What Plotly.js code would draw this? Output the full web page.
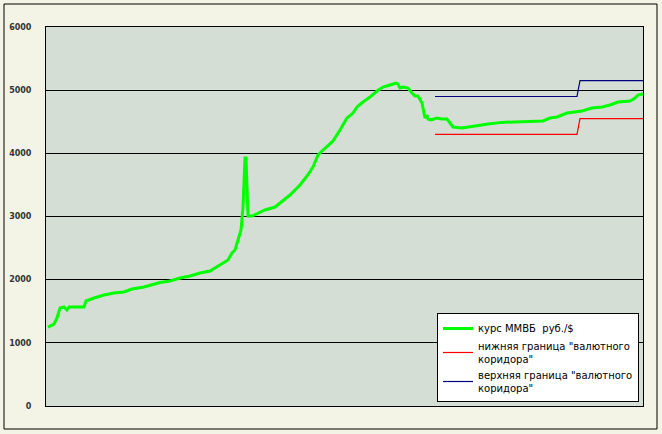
<!DOCTYPE html>
<html>
<head>
<meta charset="utf-8">
<script src="https://cdn.plot.ly/plotly-3.0.1.min.js"></script>
<style>html,body{margin:0;padding:0;background:#f3f3e6;}#chart{width:662px;height:434px;}</style>
</head>
<body>
<div id="chart"></div>
<script>
// Day index along the (unlabelled) horizontal axis
const rateDay = [2, 8, 11, 14, 18, 21, 23, 38, 40, 48, 58, 68, 78, 86, 98, 108, 114, 124, 134, 144, 154, 164, 171, 177, 182, 186, 189, 192, 195, 197, 198, 199, 200, 201, 202, 206, 212, 219, 229, 237, 244, 254, 261, 267, 272, 277, 287, 294, 301, 307, 311, 317, 324, 331, 337, 344, 350, 352, 354, 357, 362, 366, 369, 372, 376, 377, 379, 381, 382, 385, 391, 396, 401, 404, 407, 416, 422, 429, 442, 456, 469, 479, 497, 504, 511, 521, 536, 546, 556, 564, 572, 584, 589, 592, 597];
// MICEX rate, rub/$
const rateValue = [1250, 1298, 1393, 1551, 1567, 1520, 1567, 1567, 1662, 1710, 1757, 1789, 1805, 1852, 1885, 1925, 1955, 1979, 2026, 2058, 2105, 2137, 2200, 2264, 2311, 2422, 2470, 2628, 2786, 3150, 3530, 3926, 3926, 3450, 3008, 3008, 3055, 3103, 3150, 3245, 3340, 3499, 3641, 3783, 3973, 4052, 4195, 4369, 4559, 4638, 4733, 4812, 4891, 4986, 5050, 5082, 5113, 5097, 5034, 5050, 5034, 4955, 4907, 4907, 4797, 4717, 4559, 4607, 4543, 4528, 4559, 4543, 4543, 4480, 4417, 4401, 4417, 4433, 4465, 4490, 4496, 4500, 4512, 4559, 4575, 4638, 4670, 4717, 4733, 4765, 4812, 4828, 4876, 4923, 4939];
// Currency corridor
const corridorDay = [389, 531, 534, 597];
const lowerBound = [4300, 4300, 4550, 4550];
const upperBound = [4900, 4900, 5150, 5150];
const yTicks = [0, 1000, 2000, 3000, 4000, 5000, 6000];
const seriesNames = ['курс ММВБ  руб./$', 'нижняя граница "валютного<br>коридора"', 'верхняя граница "валютного<br>коридора"'];

const traces = [
  {x: rateDay, y: rateValue, name: seriesNames[0], mode: 'lines', line: {color: '#00ff00', width: 3}},
  {x: corridorDay, y: lowerBound, name: seriesNames[1], mode: 'lines', line: {color: '#ff0000', width: 1.2}},
  {x: corridorDay, y: upperBound, name: seriesNames[2], mode: 'lines', line: {color: '#000080', width: 1.2}}
];

const L = 46, R = 643, T = 27, B = 406;
const pw = R - L, ph = B - T;
const layout = {
  width: 662, height: 434,
  margin: {l: L, r: 662 - R, t: T, b: 434 - B, pad: 0},
  paper_bgcolor: '#f4f4e6',
  plot_bgcolor: '#d5ded5',
  font: {family: 'DejaVu Sans, Arial, sans-serif', color: '#000'},
  showlegend: true,
  legend: {
    x: (437 - L) / pw, y: (B - 313) / ph, xanchor: 'left', yanchor: 'top',
    bgcolor: '#ffffff', bordercolor: '#000000', borderwidth: 1,
    font: {size: 10, family: 'DejaVu Sans, Arial, sans-serif', color: '#000'},
    tracegroupgap: 0, itemwidth: 30
  },
  xaxis: {
    range: [0, pw], showgrid: false, zeroline: false, showticklabels: false, ticks: '',
    showline: true, linecolor: '#000', linewidth: 1, mirror: true, fixedrange: true
  },
  yaxis: {
    range: [0, 6000], tickvals: yTicks, ticktext: yTicks.map(String),
    showgrid: true, gridcolor: '#000', gridwidth: 1, zeroline: false,
    showline: true, linecolor: '#000', linewidth: 1, mirror: true, ticks: '',
    ticklabelstandoff: 12,
    tickfont: {size: 8, family: 'DejaVu Sans, Arial, sans-serif', color: '#333', weight: 'bold'},
    fixedrange: true
  },
  shapes: [{
    type: 'rect', xref: 'paper', yref: 'paper',
    x0: (4 - L) / pw, x1: (657 - L) / pw, y0: (B - 429) / ph, y1: (B - 4) / ph,
    line: {color: '#000', width: 1}, fillcolor: 'rgba(0,0,0,0)', layer: 'below'
  }]
};

Plotly.newPlot('chart', traces, layout, {staticPlot: true, displayModeBar: false});
</script>
</body>
</html>
